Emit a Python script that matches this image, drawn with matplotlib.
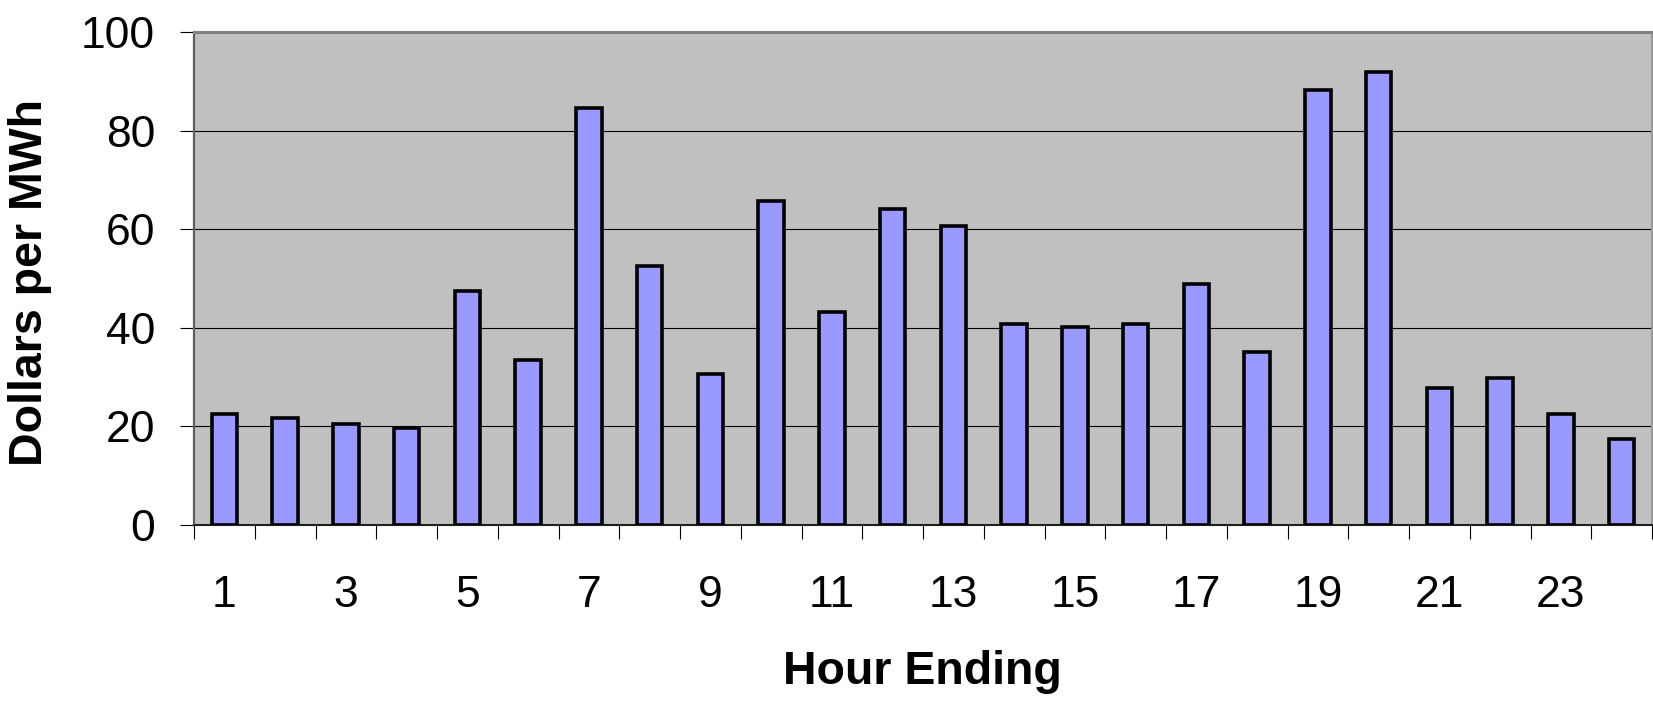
import matplotlib
matplotlib.use("Agg")
import matplotlib.pyplot as plt
import numpy as np

hours = list(range(1, 25))
prices = [22.6, 21.8, 20.5, 19.7, 47.4, 33.5, 84.6, 52.6, 30.6, 65.8, 43.2, 64.1,
          60.7, 40.8, 40.2, 40.8, 48.9, 35.0, 88.2, 91.9, 27.8, 29.9, 22.6, 17.5]
tick_labels = [str(h) if h % 2 == 1 else "" for h in hours]
y_ticks = [0, 20, 40, 60, 80, 100]

plt.rcParams['font.family'] = ['Liberation Sans', 'DejaVu Sans']

fig = plt.figure(figsize=(16.53, 7.01), dpi=100)
ax = fig.add_axes([194/1653, 176/701, 1458/1653, 493/701])
ax.set_facecolor('#C0C0C0')

ax.bar(hours, prices, width=0.42, color='#9999FF', edgecolor='black', linewidth=2.6, zorder=3)

ax.set_xlim(0.5, 24.5)
ax.set_ylim(0, 100)
ax.set_yticks(y_ticks)
ax.yaxis.grid(True, color='black', linewidth=0.8, zorder=1)
ax.set_axisbelow(True)

# x ticks: marks at category boundaries, labels at odd categories
ax.set_xticks(np.arange(0.5, 25.0, 1.0))
ax.set_xticklabels([])
ax.set_xticks(hours, minor=True)
ax.set_xticklabels(tick_labels, minor=True)
ax.tick_params(axis='x', which='major', direction='out', length=10, width=0.8, color='black')
ax.tick_params(axis='x', which='minor', length=0, pad=36, labelsize=32)
ax.tick_params(axis='y', direction='out', length=10, width=0.8, color='black', pad=18, labelsize=32)

ax.spines['top'].set_color('#808080')
ax.spines['top'].set_linewidth(2.2)
ax.spines['left'].set_color('#606060')
ax.spines['left'].set_linewidth(1.6)
ax.spines['right'].set_color('#999999')
ax.spines['right'].set_linewidth(1.5)
ax.spines['bottom'].set_color('#202020')
ax.spines['bottom'].set_linewidth(1.5)

fig.text(30/1653, 1 - 283/701, 'Dollars per MWh', rotation=90, ha='center', va='center',
         fontsize=33.5, fontweight='bold')
fig.text(922/1653, 1 - 672/701, 'Hour Ending', ha='center', va='center',
         fontsize=33.5, fontweight='bold')

fig.savefig('out.png', dpi=100)
